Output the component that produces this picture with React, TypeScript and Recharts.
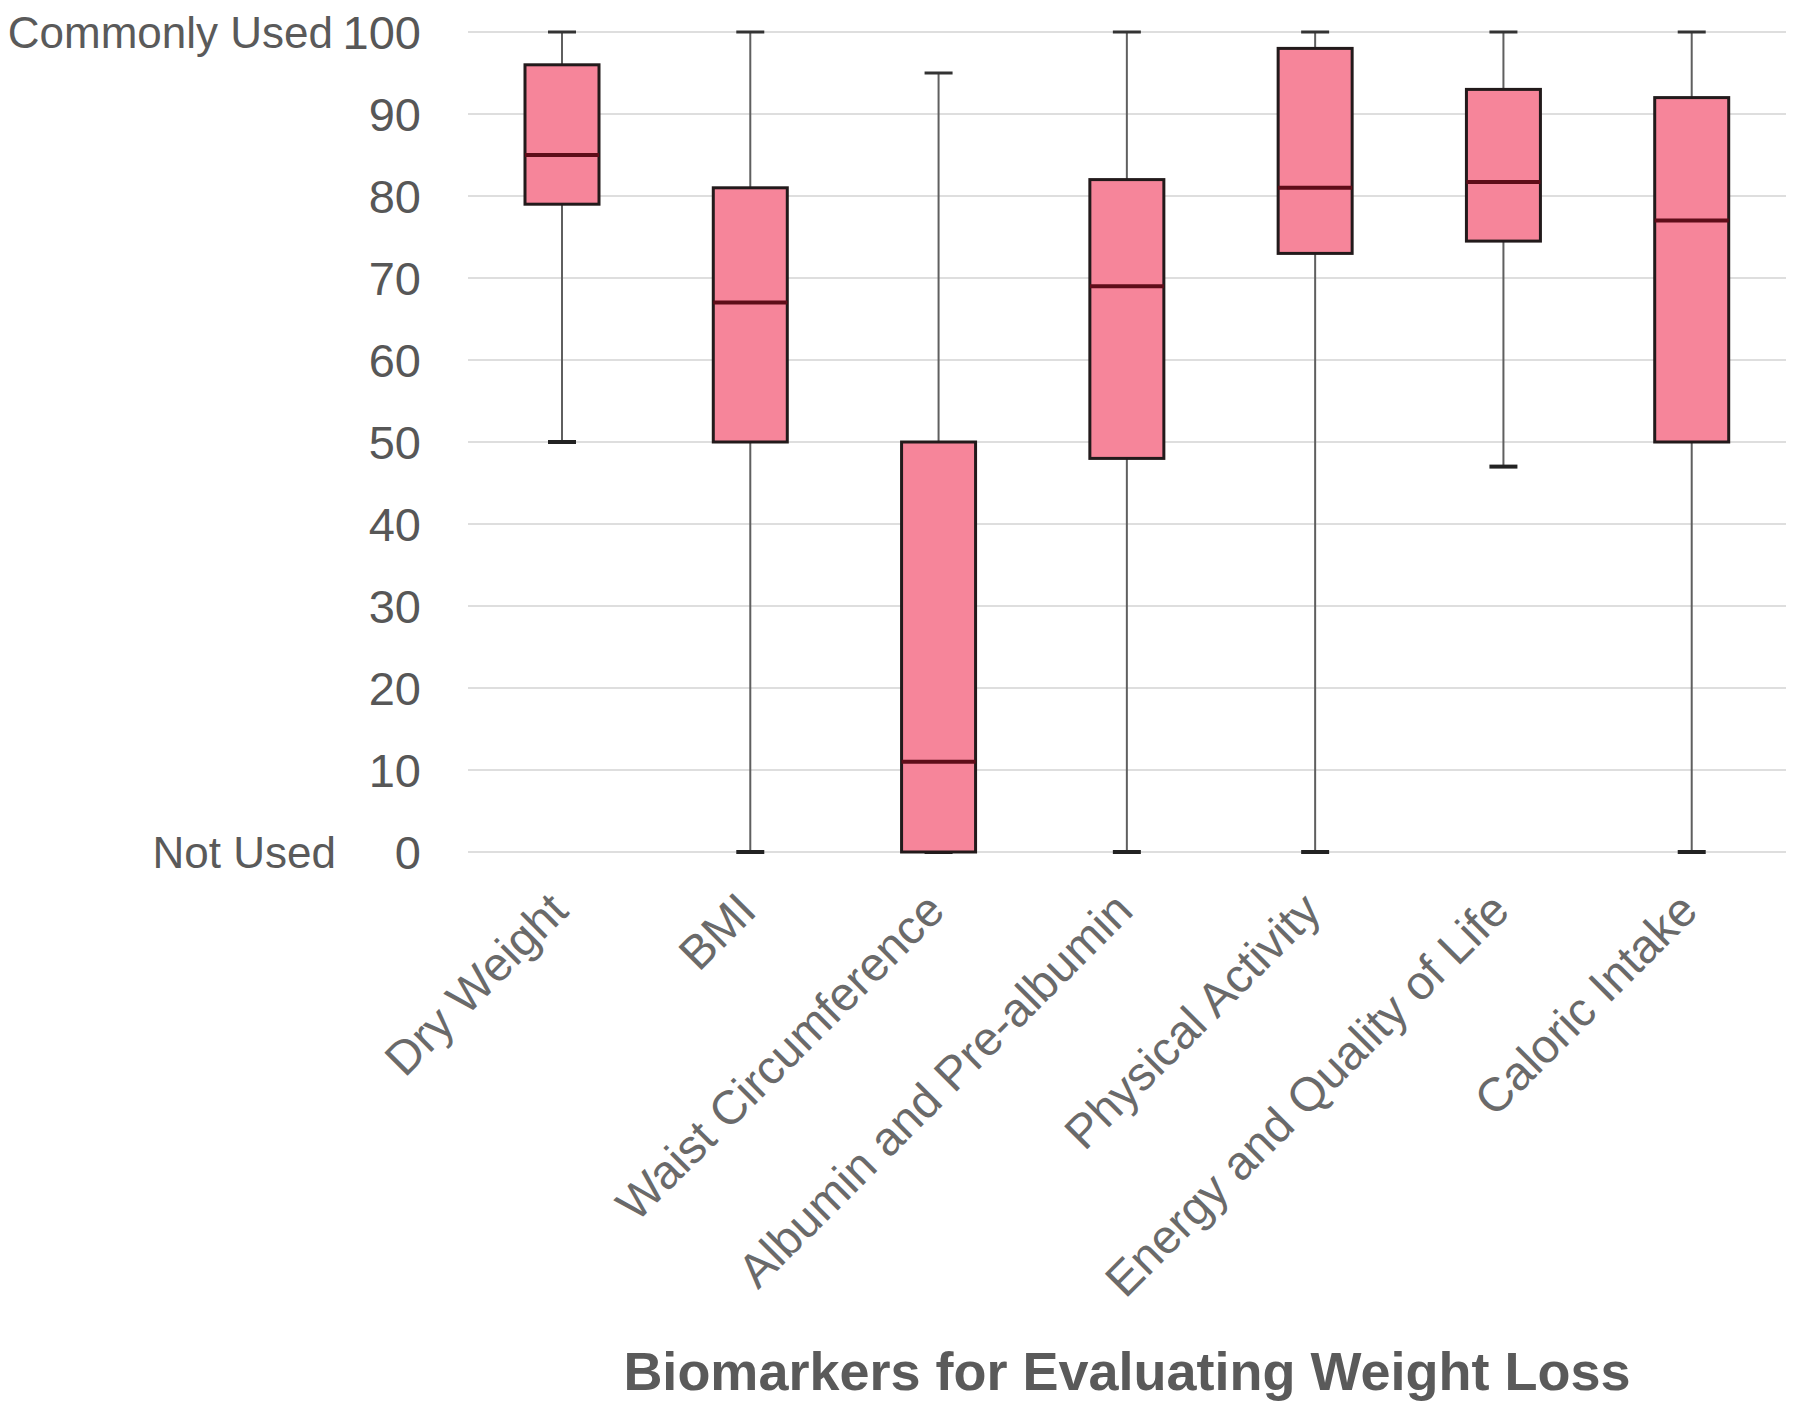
import React from 'react';
import { ComposedChart, Bar, XAxis, YAxis, CartesianGrid, Label } from 'recharts';

// Biomarker categories and their box statistics (0 = Not Used, 100 = Commonly Used)
const categories = [
  'Dry Weight',
  'BMI',
  'Waist Circumference',
  'Albumin and Pre-albumin',
  'Physical Activity',
  'Energy and Quality of Life',
  'Caloric Intake',
];
const minValues = [50, 0, 0, 0, 0, 47, 0];
const q1Values = [79, 50, 0, 48, 73, 74.5, 50];
const medianValues = [85, 67, 11, 69, 81, 81.7, 77];
const q3Values = [96, 81, 50, 82, 98, 93, 92];
const maxValues = [100, 100, 95, 100, 100, 100, 100];
const yTicks = [0, 10, 20, 30, 40, 50, 60, 70, 80, 90, 100];

const FONT = '"Liberation Sans", Arial, Helvetica, sans-serif';
const BOX_FILL = '#F6859A';
const BOX_STROKE = '#221a1b';
const MEDIAN_STROKE = '#5e0d19';
const WHISKER = '#5f5f5f';

const data = categories.map((name, i) => ({
  name,
  range: [minValues[i], maxValues[i]],
  min: minValues[i],
  q1: q1Values[i],
  median: medianValues[i],
  q3: q3Values[i],
  max: maxValues[i],
}));

/** Box drawn on top of the [min, max] range bar; inner values mapped through the bar's own pixel span. */
function BoxShape(props: any) {
  const { x, y, width, height, payload } = props;
  const top = Math.min(y, y + height);
  const h = Math.abs(height);
  const { min, max, q1, median, q3 } = payload;
  const toY = (v: number) => top + ((max - v) / (max - min)) * h;
  const cx = x + width / 2;
  const cap = 28;
  return (
    <g>
      <line x1={cx} x2={cx} y1={toY(max)} y2={toY(min)} stroke={WHISKER} strokeWidth={2} />
      <line x1={cx - cap / 2} x2={cx + cap / 2} y1={toY(max)} y2={toY(max)} stroke="#333" strokeWidth={3} />
      <line x1={cx - cap / 2} x2={cx + cap / 2} y1={toY(min)} y2={toY(min)} stroke="#222" strokeWidth={4} />
      <rect
        x={x}
        y={toY(q3)}
        width={width}
        height={toY(q1) - toY(q3)}
        fill={BOX_FILL}
        stroke={BOX_STROKE}
        strokeWidth={3}
      />
      <line x1={x} x2={x + width} y1={toY(median)} y2={toY(median)} stroke={MEDIAN_STROKE} strokeWidth={4} />
    </g>
  );
}

function YTick(props: any) {
  const { x, y, payload } = props;
  const v = payload.value;
  return (
    <g>
      <text x={x} y={y} dy="0.36em" textAnchor="end" fontSize={47} fill="#575757" fontFamily={FONT}>
        {v}
      </text>
      {v === 100 && (
        <text x={x - 88} y={y} dy="0.36em" textAnchor="end" fontSize={44} fill="#5a5a5a" fontFamily={FONT}>
          Commonly Used
        </text>
      )}
      {v === 0 && (
        <text x={x - 85} y={y} dy="0.36em" textAnchor="end" fontSize={44} fill="#5a5a5a" fontFamily={FONT}>
          Not Used
        </text>
      )}
    </g>
  );
}

function XTick(props: any) {
  const { x, y, payload } = props;
  return (
    <g transform={`translate(${x - 4},${y + 43})`}>
      <text transform="rotate(-45)" dy="0.36em" textAnchor="end" fontSize={47.5} fill="#6a6a6a" fontFamily={FONT}>
        {payload.value}
      </text>
    </g>
  );
}

function AxisTitle(props: any) {
  const { viewBox } = props;
  const { x, y, width } = viewBox;
  return (
    <text
      x={x + width / 2}
      y={y + 519}
      dy="0.36em"
      textAnchor="middle"
      fontSize={54}
      fontWeight="bold"
      fill="#5a5a5a"
      fontFamily={FONT}
    >
      Biomarkers for Evaluating Weight Loss
    </text>
  );
}

export default function App() {
  return (
    <div style={{ position: 'absolute', left: 0, top: 0, width: 1799, height: 1408, background: '#fff' }}>
      <ComposedChart width={1799} height={1408} data={data} margin={{ top: 32, right: 13, bottom: 0, left: 0 }}>
        <CartesianGrid vertical={false} stroke="#dedede" strokeWidth={2} />
        <XAxis
          dataKey="name"
          axisLine={false}
          tickLine={false}
          tickMargin={0}
          height={556}
          interval={0}
          tick={<XTick />}
        >
          <Label content={<AxisTitle />} />
        </XAxis>
        <YAxis
          domain={[0, 100]}
          ticks={yTicks}
          axisLine={false}
          tickLine={false}
          width={468}
          tickMargin={41}
          tick={<YTick />}
        />
        <Bar dataKey="range" barSize={74} shape={<BoxShape />} isAnimationActive={false} />
      </ComposedChart>
    </div>
  );
}
